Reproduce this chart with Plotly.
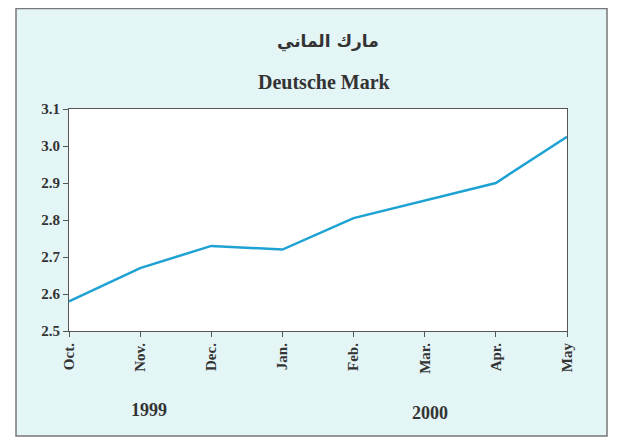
import plotly.graph_objects as go

months = ["Oct.", "Nov.", "Dec.", "Jan.", "Feb.", "Mar.", "Apr.", "May"]
values = [2.58, 2.67, 2.73, 2.72, 2.805, 2.853, 2.90, 3.025]
y_ticks = [2.5, 2.6, 2.7, 2.8, 2.9, 3.0, 3.1]
y_tick_text = ["2.5", "2.6", "2.7", "2.8", "2.9", "3.0", "3.1"]
years = ["1999", "2000"]
title_ar = "مارك الماني"
title_en = "Deutsche Mark"

OFF = 8  # page body margin
W, H = 623 - OFF, 443 - OFF
L, R, T, B = 69 - OFF, 56, 109 - OFF, 112
pw, ph = W - L - R, H - T - B

def px(x):
    return (x - OFF - L) / pw

def py(y):
    return (H - B - (y - OFF)) / ph

fig = go.Figure()
fig.add_trace(go.Scatter(
    x=list(range(len(months))), y=values, mode="lines",
    line=dict(color="#1ea2d4", width=2.5), hoverinfo="skip"))

serif = "Liberation Serif, Times New Roman, serif"
axis_common = dict(showline=True, linecolor="#555555", linewidth=1.2, mirror=True,
                   ticks="outside", tickcolor="#555555", ticklen=5, showgrid=False,
                   zeroline=False, tickfont=dict(family=serif, size=15, color="#333333"))

def note(text, x, y, size, family=serif):
    return dict(text="<b>%s</b>" % text, xref="paper", yref="paper", x=px(x), y=py(y),
                xanchor="center", yanchor="middle", showarrow=False,
                font=dict(family=family, size=size, color="#333333"))

fig.update_layout(
    width=W, height=H, margin=dict(l=L, r=R, t=T, b=B),
    paper_bgcolor="white", plot_bgcolor="white", showlegend=False,
    xaxis=dict(range=[0, len(months) - 1], tickmode="array",
               tickvals=list(range(len(months))), ticktext=["<b>%s</b>" % m for m in months],
               tickangle=-90, **axis_common),
    yaxis=dict(range=[y_ticks[0], y_ticks[-1]], tickmode="array", tickvals=y_ticks,
               ticktext=["<b>%s</b>" % t for t in y_tick_text], **axis_common),
    shapes=[
        dict(type="rect", xref="paper", yref="paper", layer="below",
             x0=px(16), x1=px(607), y0=py(436), y1=py(8.5),
             fillcolor="#e4f5f6", line=dict(color="#777777", width=1.5)),
        dict(type="rect", xref="paper", yref="paper", layer="below",
             x0=0, x1=1, y0=0, y1=1, fillcolor="white", line=dict(width=0)),
    ],
    annotations=[
        note(title_ar, 328, 41, 17, "DejaVu Serif, DejaVu Sans"),
        note(title_en, 324, 82, 20),
        note(years[0], 149, 410, 18),
        note(years[1], 430, 413, 18),
    ],
)

fig.write_html("out.html")
